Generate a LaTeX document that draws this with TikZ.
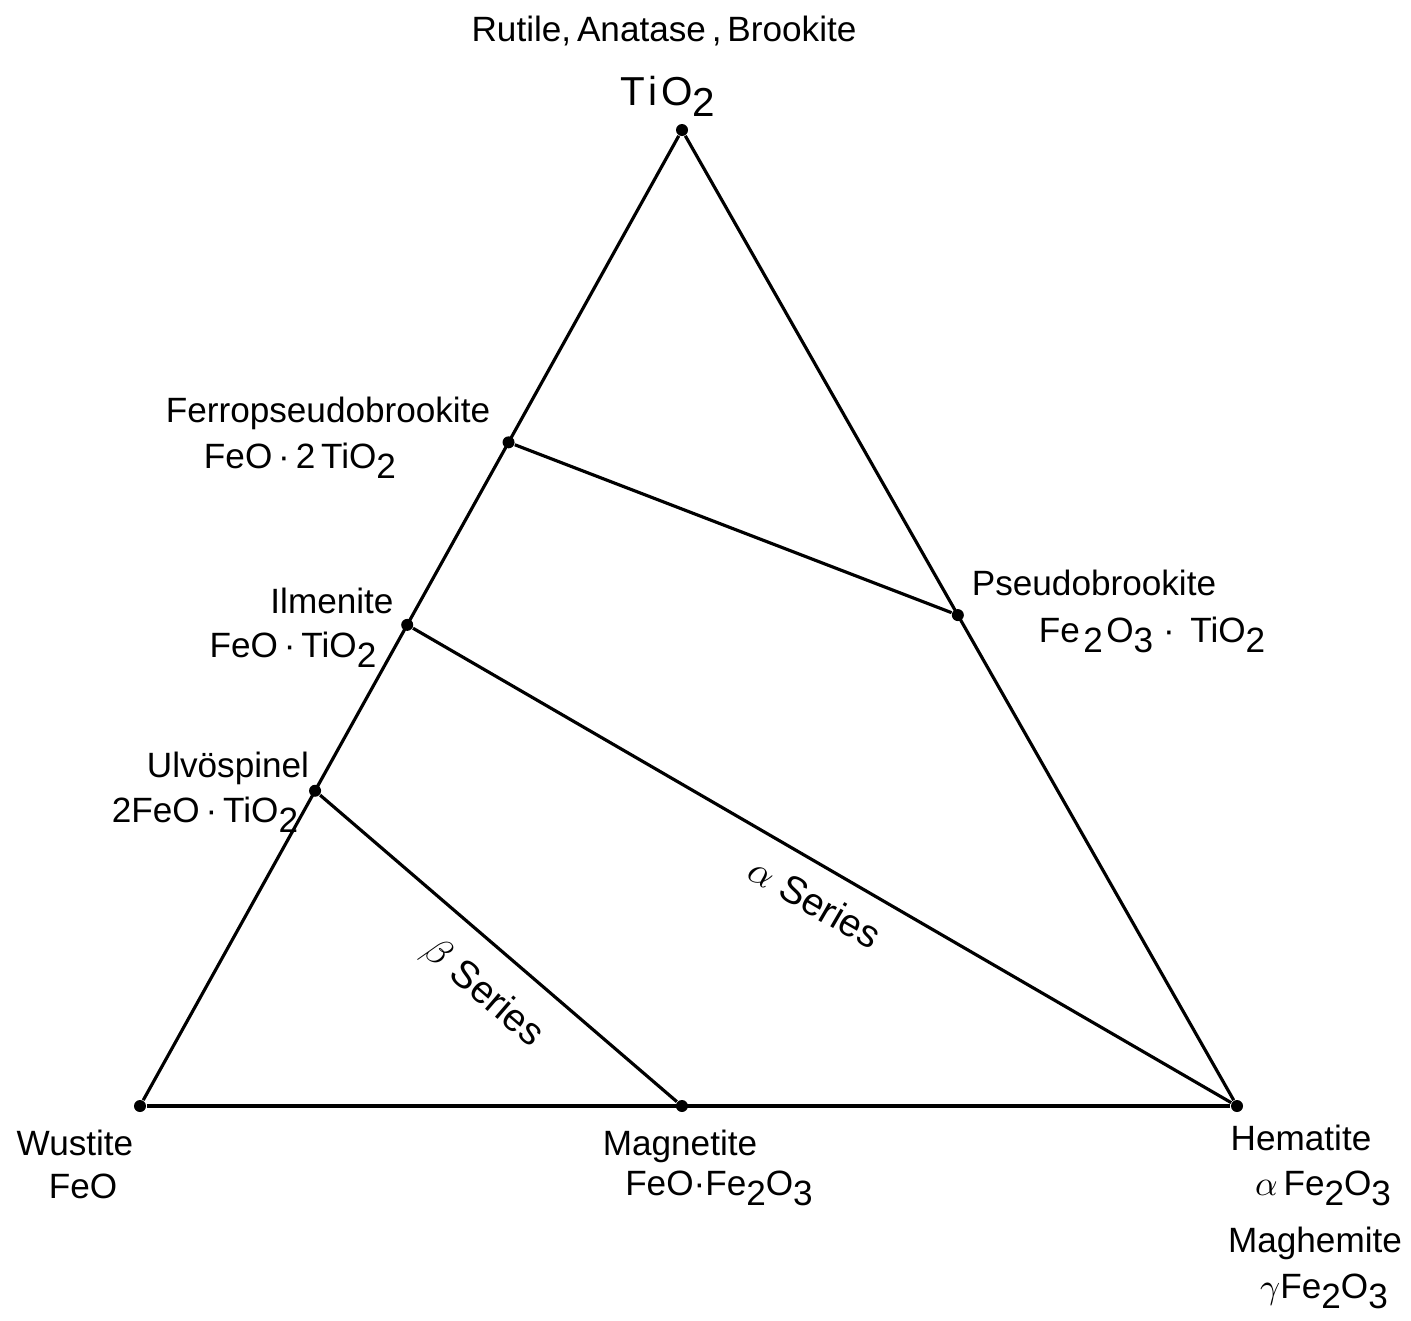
\documentclass[tikz,border=0pt]{standalone}
\usepackage{fontspec}
\setmainfont{Liberation Sans}
\usetikzlibrary{calc}
\newcommand{\dn}[1]{\raisebox{-0.55ex}{#1}}
\newcommand{\cd}{\,\textperiodcentered\,}

\begin{document}
\begin{tikzpicture}[x=0.1mm,y=-0.1mm,
  phase/.style={circle,fill=black,inner sep=0pt,minimum size=1.2mm},
  lbl/.style={anchor=base,inner sep=0pt,font=\fontsize{10}{12}\selectfont},
  tie/.style={line width=0.9pt}]
\useasboundingbox (0,0) rectangle (1411,1320);

% corners of the triangle
\node[phase] (tio2) at (682,130) {};
\node[phase] (feo) at (140,1106) {};
\node[phase] (fe2o3) at (1237,1106) {};

% phases on the sides
\node[phase] (fpb) at ($(tio2)!0.32!(feo)$) {};
\node[phase] (ilm) at ($(tio2)!0.507!(feo)$) {};
\node[phase] (usp) at ($(tio2)!0.677!(feo)$) {};
\node[phase] (psb) at ($(tio2)!0.497!(fe2o3)$) {};
\node[phase] (mag) at ($(feo)!0.494!(fe2o3)$) {};

\draw[tie] (tio2) -- (feo);
\draw[tie] (tio2) -- (fe2o3);
\draw[tie] (feo) -- (fe2o3);
\draw[tie] (fpb) -- (psb);
\draw[tie] (ilm) -- (fe2o3);
\draw[tie] (usp) -- (mag);

% names and formulas
\node[lbl] (tio2-name) at (664,41) {Rutile,\,Anatase\,,\,Brookite};
\node[lbl,font=\fontsize{11.5}{13}\selectfont] (tio2-form) at (668,105) {T\kern1pt i\kern1pt O\dn{2}};
\node[lbl] (fpb-name) at (328,422) {Ferropseudobrookite};
\node[lbl] (fpb-form) at (300,468) {FeO\cd 2\,TiO\dn{2}};
\node[lbl] (ilm-name) at (332,613) {Ilmenite};
\node[lbl] (ilm-form) at (293,657) {FeO\cd TiO\dn{2}};
\node[lbl] (usp-name) at (228,777) {Ulvöspinel};
\node[lbl] (usp-form) at (205,822) {2FeO\cd TiO\dn{2}};
\node[lbl] (psb-name) at (1094,595) {Pseudobrookite};
\node[lbl] (psb-form) at (1152,642) {Fe\kern1pt\dn{2}\kern1pt O\dn{3}\;\textperiodcentered\;\,TiO\dn{2}};
\node[lbl] (feo-name) at (75,1155) {Wustite};
\node[lbl] (feo-form) at (83,1198) {FeO};
\node[lbl] (mag-name) at (680,1155) {Magnetite};
\node[lbl] (mag-form) at (719,1195) {FeO\textperiodcentered Fe\dn{2}O\dn{3}};
\node[lbl] (hem-name) at (1301,1150) {Hematite};
\node[lbl] (hem-form) at (1323,1195) {$\alpha$\,Fe\dn{2}O\dn{3}};
\node[lbl] (mgh-name) at (1315,1252) {Maghemite};
\node[lbl] (mgh-form) at (1324,1298) {$\gamma$Fe\dn{2}O\dn{3}};

% series
\node[lbl,anchor=center,rotate=-30.2,font=\fontsize{11}{13}\selectfont] (alpha-ser) at (815,902) {$\alpha$ Series};
\node[lbl,anchor=center,rotate=-40.7,font=\fontsize{11}{13}\selectfont] (beta-ser) at (483,993) {$\beta$ Series};
\end{tikzpicture}
\end{document}
